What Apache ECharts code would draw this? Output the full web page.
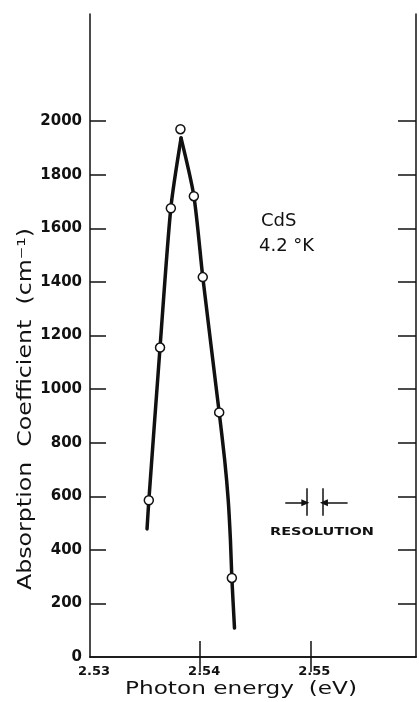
<!DOCTYPE html>
<html>
<head>
<meta charset="utf-8">
<script src="https://cdn.jsdelivr.net/npm/echarts@6/dist/echarts.min.js"></script>
<style>
  html, body { margin: 0; padding: 0; background: #fff; }
  #chart { width: 419px; height: 702px; }
</style>
</head>
<body>
<div id="chart"></div>
<script>
// Measured absorption of CdS at 4.2 K (open circles)
const energyPoints = [2.53534, 2.53636, 2.53734, 2.53821, 2.53943, 2.54024, 2.54173, 2.54288];
const absorptionPoints = [585, 1155, 1675, 1970, 1720, 1418, 913, 295];

// Hand-drawn curve through the measurements: rising and falling branches meet at the apex
const risingEnergy = [2.53518, 2.53534, 2.53636, 2.53734, 2.53827];
const risingAbsorption = [478, 583, 1156, 1676, 1937];
const fallingEnergy = [2.53827, 2.53943, 2.54024, 2.54173, 2.54223, 2.54255, 2.54275, 2.54288, 2.54312];
const fallingAbsorption = [1937, 1721, 1418, 913, 735, 586, 437, 295, 108];

// Axis ticks and labels
const energyTicks = [2.54, 2.55];
const energyLabels = [2.53, 2.54, 2.55];
const absorptionTicks = [200, 400, 600, 800, 1000, 1200, 1400, 1600, 1800, 2000];
const absorptionLabels = [0, 200, 400, 600, 800, 1000, 1200, 1400, 1600, 1800, 2000];

// Spectral resolution marker (eV, cm^-1)
const resolutionBars = [2.54964, 2.55115];
const resolutionBarSpan = [527, 630];
const resolutionArrowLevel = 576;
const resolutionArrowTails = [2.54773, 2.55339];
const resolutionArrowTips = [2.54955, 2.55124];

const INK = '#111';
const chart = echarts.init(document.getElementById('chart'), null, { renderer: 'canvas' });

// Stretch a text horizontally so it covers a given width
const measureCtx = document.createElement('canvas').getContext('2d');
function stretchFor(text, font, width) {
  measureCtx.font = font;
  return width / measureCtx.measureText(text).width;
}

const yTitle = 'Absorption  Coefficient  (cm\u207B\u00B9)';
const yTitleFont = '19px "DejaVu Sans"';
const xTitle = 'Photon energy  (eV)';
const xTitleFont = '17px "DejaVu Sans"';
const resText = 'RESOLUTION';
const resFont = 'bold 11px "DejaVu Sans"';

const frameAxis = {
  type: 'value',
  splitLine: { show: false },
  axisLine: { show: true, lineStyle: { color: INK, width: 1.5 } }
};

function branch(name, xs, ys) {
  return {
    name: name,
    type: 'line',
    xAxisIndex: 0, yAxisIndex: 0,
    data: xs.map((e, i) => [e, ys[i]]),
    showSymbol: false,
    symbol: 'none',
    smooth: 0.25,
    lineStyle: { color: INK, width: 3.5, cap: 'round', join: 'round' },
    silent: true,
    z: 2
  };
}

const option = {
  animation: false,
  backgroundColor: '#fff',
  grid: { left: 90, right: 3, top: 14, bottom: 45, containLabel: false },
  xAxis: [
    Object.assign({}, frameAxis, {
      position: 'bottom', min: 2.53, max: 2.5596, interval: 0.01,
      axisTick: { show: true, inside: true, length: 16, customValues: energyTicks, lineStyle: { color: INK, width: 1.5 } },
      axisLabel: {
        show: true, customValues: energyLabels, margin: 8,
        color: INK, fontFamily: 'DejaVu Sans', fontWeight: 'bold', fontSize: 13,
        padding: [0, 0, 0, 8],
        formatter: v => v.toFixed(2)
      }
    }),
    Object.assign({}, frameAxis, {
      position: 'top', min: 2.53, max: 2.5596, interval: 0.01,
      axisTick: { show: true, inside: true, length: 15, customValues: energyTicks, lineStyle: { color: INK, width: 1.5 } },
      axisLabel: { show: false }
    })
  ],
  yAxis: [
    Object.assign({}, frameAxis, {
      position: 'left', min: 0, max: 2400, interval: 200,
      axisTick: { show: true, inside: true, length: 16, customValues: absorptionTicks, lineStyle: { color: INK, width: 1.5 } },
      axisLabel: {
        show: true, customValues: absorptionLabels, margin: 8,
        color: INK, fontFamily: 'DejaVu Sans', fontWeight: 'bold', fontSize: 15,
        formatter: v => String(v)
      }
    }),
    Object.assign({}, frameAxis, {
      position: 'right', min: 0, max: 2400, interval: 200,
      axisTick: { show: true, inside: true, length: 18, customValues: absorptionTicks, lineStyle: { color: INK, width: 1.5 } },
      axisLabel: { show: false }
    })
  ],
  series: [
    branch('rising', risingEnergy, risingAbsorption),
    branch('falling', fallingEnergy, fallingAbsorption),
    {
      name: 'measured',
      type: 'scatter',
      xAxisIndex: 0, yAxisIndex: 0,
      data: energyPoints.map((e, i) => [e, absorptionPoints[i]]),
      symbol: 'circle',
      symbolSize: 9,
      itemStyle: { color: '#fff', borderColor: INK, borderWidth: 1.5, opacity: 1 },
      silent: true,
      z: 4,
      markLine: {
        silent: true,
        animation: false,
        symbol: ['none', 'triangle'],
        symbolSize: [7, 8],
        label: { show: false },
        lineStyle: { color: INK, width: 1.5, type: 'solid' },
        emphasis: { disabled: true },
        data: [
          [{ coord: [resolutionBars[0], resolutionBarSpan[0]], symbol: 'none' }, { coord: [resolutionBars[0], resolutionBarSpan[1]], symbol: 'none' }],
          [{ coord: [resolutionBars[1], resolutionBarSpan[0]], symbol: 'none' }, { coord: [resolutionBars[1], resolutionBarSpan[1]], symbol: 'none' }],
          [{ coord: [resolutionArrowTails[0], resolutionArrowLevel] }, { coord: [resolutionArrowTips[0], resolutionArrowLevel] }],
          [{ coord: [resolutionArrowTails[1], resolutionArrowLevel] }, { coord: [resolutionArrowTips[1], resolutionArrowLevel] }]
        ]
      }
    }
  ],
  graphic: [
    {
      type: 'text', x: 26, y: 409, rotation: Math.PI / 2,
      scaleX: stretchFor(yTitle, yTitleFont, 362),
      style: { text: yTitle, fontSize: 19, fontFamily: 'DejaVu Sans', fill: INK, align: 'center', verticalAlign: 'middle' }
    },
    {
      type: 'text', x: 241, y: 690,
      scaleX: stretchFor(xTitle, xTitleFont, 232),
      style: { text: xTitle, fontSize: 17, fontFamily: 'DejaVu Sans', fill: INK, align: 'center', verticalAlign: 'middle' }
    },
    {
      type: 'text', x: 261, y: 221,
      style: { text: 'CdS', fontSize: 18, fontFamily: 'DejaVu Sans', fill: INK, align: 'left', verticalAlign: 'middle' }
    },
    {
      type: 'text', x: 259, y: 246,
      style: { text: '4.2 \u00B0K', fontSize: 18, fontFamily: 'DejaVu Sans', fill: INK, align: 'left', verticalAlign: 'middle' }
    },
    {
      type: 'text', x: 322, y: 532,
      scaleX: stretchFor(resText, resFont, 104),
      style: { text: resText, fontSize: 11, fontWeight: 'bold', fontFamily: 'DejaVu Sans', fill: INK, align: 'center', verticalAlign: 'middle' }
    }
  ]
};

chart.setOption(option);
</script>
</body>
</html>
